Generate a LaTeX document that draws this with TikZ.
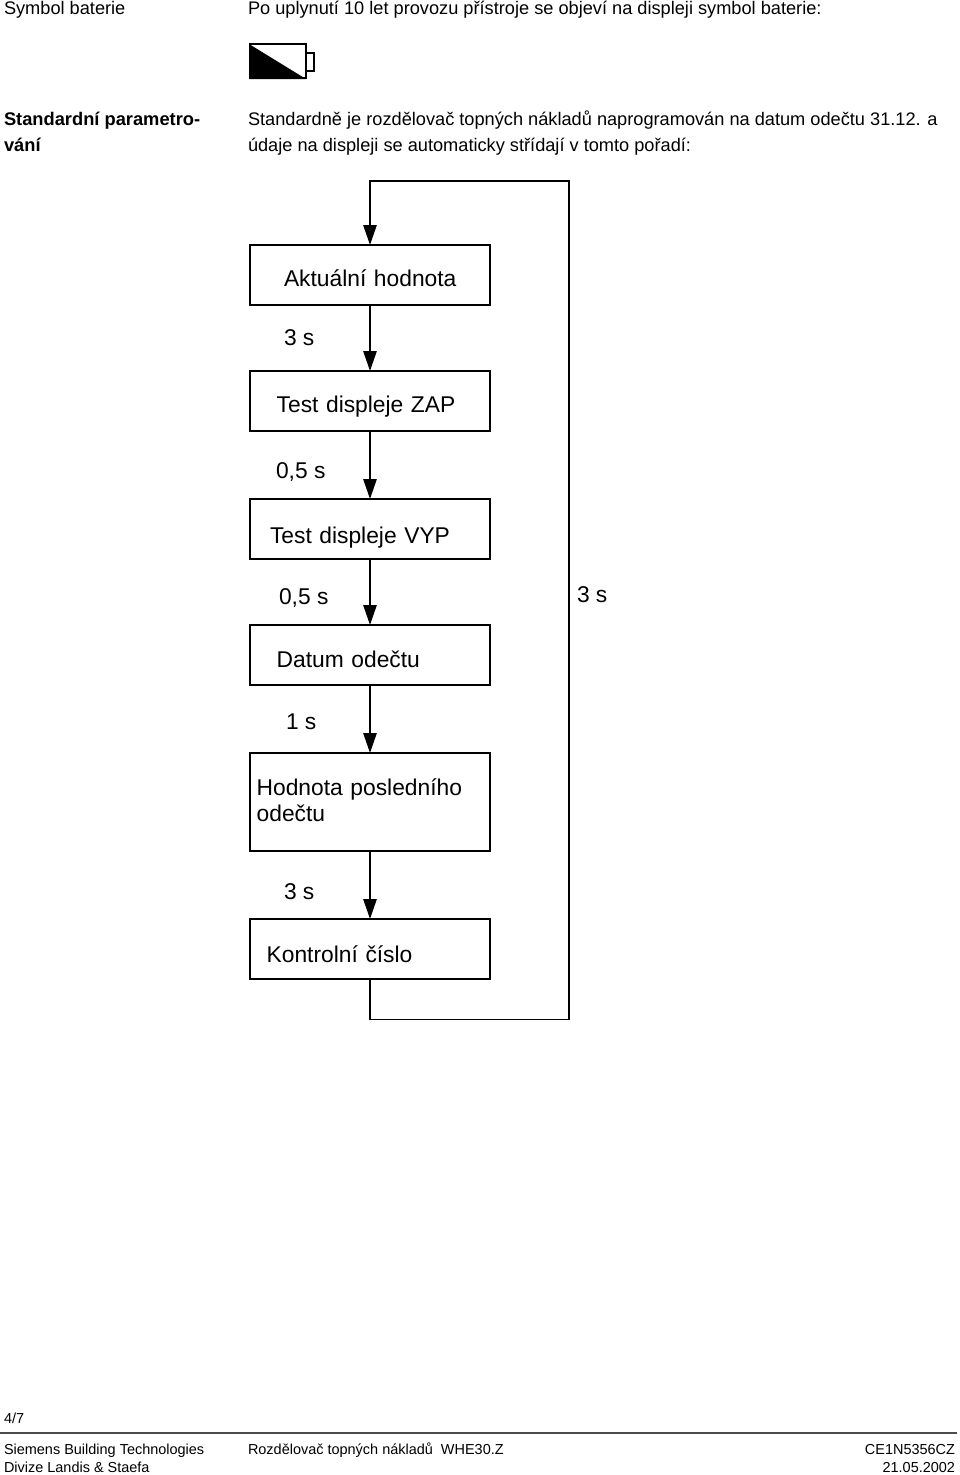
\documentclass[tikz,border=0pt]{standalone}
\usepackage{fontspec}
\setmainfont{Liberation Sans}
\usetikzlibrary{arrows.meta,positioning}
\tikzset{
  every node/.style={
    inner sep=0pt,
    outer sep=0pt
  },
  headtext/.style={
    anchor=base west,
    align=left,
    font=\fontsize{13.65}{18.9}\selectfont
  },
  boldtext/.style={
    headtext,
    font=\fontsize{13.72}{18.9}\selectfont\bfseries
  },
  foottext/.style={
    anchor=base west,
    font=\fontsize{10.85}{13}\selectfont
  },
  stepbox/.style={
    shape=rectangle,
    draw=black,
    line width=1.3pt,
    minimum height=45pt,
    text width=180pt,
    align=left,
    font=\fontsize{17.1}{20}\selectfont
  },
  timelabel/.style={
    anchor=base west,
    font=\fontsize{17.1}{20}\selectfont
  },
  flowline/.style={
    draw=black,
    line width=1.3pt,
    -{Triangle[length=15pt,width=10pt]}
  }
}
\begin{document}
\begin{tikzpicture}[x=0.75pt,y=-0.75pt]
  \useasboundingbox (0,0) rectangle (960,1475);

  % header column
  \node [headtext] (symbol) at (4,14) {Symbol baterie};
  \node [headtext] (uplynuti) at (248,14) {Po uplynutí 10 let provozu přístroje se objeví na displeji symbol baterie:};
  \node [boldtext] (standard) at (4,151) {Standardní parametro-\\vání};
  \node [headtext] (popis) at (248,151) {Standardně je rozdělovač topných nákladů naprogramován na datum odečtu 31.12. a\\údaje na displeji se automaticky střídají v tomto pořadí:};

  % battery symbol
  \fill (249,44) -- (306,79) -- (249,79) -- cycle;
  \draw [line width=1.7pt] (250,44) rectangle (306,78);
  \draw [line width=1.7pt] (306,53) rectangle (314,71);

  % boxes
  \node [stepbox, anchor=north west, text depth=0pt, text height=17.5pt] (aktualni) at (250,245) {\hspace*{25.5pt}Aktuální hodnota};
  \node [stepbox, below=49.5pt of aktualni, text depth=0pt, text height=16.5pt] (zap) {\hspace*{20pt}Test displeje ZAP};
  \node [stepbox, below=51pt of zap, text depth=0pt, text height=21pt] (vyp) {\hspace*{15pt}Test displeje VYP};
  \node [stepbox, below=49.5pt of vyp, text depth=0pt, text height=18pt] (datum) {\hspace*{20pt}Datum odečtu};
  \node [stepbox, below=51pt of datum, minimum height=73.5pt, text depth=23pt] (posledni) {\hspace*{5pt}Hodnota posledního\\\hspace*{5pt}odečtu};
  \node [stepbox, below=51pt of posledni, text depth=0pt, text height=19.5pt] (kontrolni) {\hspace*{12.5pt}Kontrolní číslo};

  % times
  \node [timelabel] (t1) at (284,345) {3 s};
  \node [timelabel] (t2) at (276,478) {0,5 s};
  \node [timelabel] (t3) at (279,604) {0,5 s};
  \node [timelabel] (t4) at (286,729) {1 s};
  \node [timelabel] (t5) at (284,899) {3 s};
  \node [timelabel] (t6) at (577,602) {3 s};

  % connectors
  \draw [flowline] (aktualni) -- (zap);
  \draw [flowline] (zap) -- (vyp);
  \draw [flowline] (vyp) -- (datum);
  \draw [flowline] (datum) -- (posledni);
  \draw [flowline] (posledni) -- (kontrolni);
  \coordinate (loopbottom) at (569,1019.5);
  \coordinate (looptop) at (569,181);
  \draw [flowline] (kontrolni.south) |- (loopbottom) -- (looptop) -| (aktualni.north);

  % footer
  \node [foottext] (strana) at (4,1423) {4/7};
  \coordinate (ruleleft) at (0,1433);
  \coordinate (ruleright) at (957,1433);
  \draw [line width=1.4pt, black!70] (ruleleft) -- (ruleright);
  \node [foottext] (siemens) at (4,1454) {Siemens Building Technologies};
  \node [foottext] (divize) at (4,1472) {Divize Landis \& Staefa};
  \node [foottext] (rozdelovac) at (248,1454) {Rozdělovač topných nákladů\ \ WHE30.Z};
  \node [foottext, anchor=base east] (kod) at (955,1454) {CE1N5356CZ};
  \node [foottext, anchor=base east] (datumfoot) at (955,1472) {21.05.2002};
\end{tikzpicture}
\end{document}
